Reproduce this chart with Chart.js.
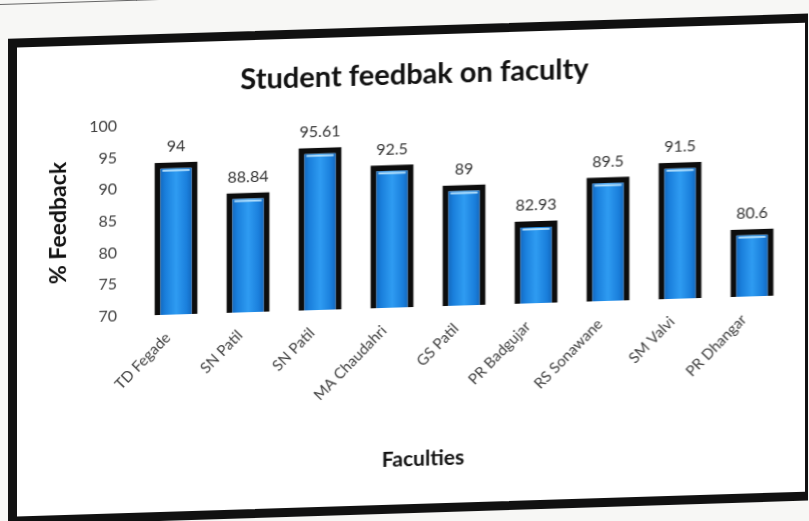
<!DOCTYPE html>
<html>
<head>
<meta charset="utf-8">
<script src="https://cdn.jsdelivr.net/npm/chart.js@4.4.1/dist/chart.umd.min.js"></script>
<style>
  html, body { margin: 0; padding: 0; background: #f7f7f5; overflow: hidden; }
  body { width: 809px; height: 521px; position: relative; }
  .sheet {
    position: absolute; left: 0; top: 0; width: 809px; height: 540px;
    transform-origin: 0 0;
    transform: skewY(-1.8deg);
  }
  .rule-h { position: absolute; left: 0; top: 4px; width: 809px; height: 1px; background: #666; }
  .rule-v { position: absolute; left: 136px; top: 0; width: 1px; height: 5px; background: #666; }
  .frame {
    position: absolute; left: 8px; top: 39px; width: 800px; height: 487px;
    box-sizing: border-box; background: #fff;
    border: 9px solid #111; border-right-width: 3px;
  }
  .box { position: absolute; left: 0; top: 0; width: 788px; height: 469px; }
</style>
</head>
<body>
<div class="sheet">
  <div class="rule-h"></div>
  <div class="rule-v"></div>
  <div class="frame">
    <div class="box"><canvas id="feedbackChart"></canvas></div>
  </div>
</div>
<script>
// data
var faculties = ['TD Fegade', 'SN Patil', 'SN Patil', 'MA Chaudahri', 'GS Patil',
                 'PR Badgujar', 'RS Sonawane', 'SM Valvi', 'PR Dhangar'];
var feedback  = [94, 88.84, 95.61, 92.5, 89, 82.93, 89.5, 91.5, 80.6];
var yMin = 70, yMax = 100, yStep = 5;
var xTitle = 'Faculties';

var FONT = 'Lato, "Open Sans", sans-serif';

// blue "cylinder" fill across each bar
function barFill(ctx) {
  var chart = ctx.chart;
  var el = chart.getDatasetMeta(0).data[ctx.dataIndex];
  if (!chart.chartArea || !el || !el.width) return '#1e88e5';
  var x0 = el.x - el.width / 2, x1 = el.x + el.width / 2;
  var g = chart.ctx.createLinearGradient(x0, 0, x1, 0);
  g.addColorStop(0,    '#0b4f9e');
  g.addColorStop(0.25, '#1a7fdc');
  g.addColorStop(0.5,  '#2f9cf2');
  g.addColorStop(0.75, '#1a7fdc');
  g.addColorStop(1,    '#0b4f9e');
  return g;
}

// values above bars, a small highlight at the top of the fill, x axis title
var valueLabels = {
  id: 'valueLabels',
  afterDatasetsDraw: function (chart) {
    var c = chart.ctx;
    var meta = chart.getDatasetMeta(0);
    c.save();
    meta.data.forEach(function (bar, i) {
      var bw = 6;
      c.fillStyle = 'rgba(200,235,255,0.85)';
      c.fillRect(bar.x - bar.width / 2 + bw + 2, bar.y + bw + 1, bar.width - 2 * bw - 4, 2);
      c.fillStyle = '#333';
      c.font = '16px ' + FONT;
      c.textAlign = 'center';
      c.textBaseline = 'bottom';
      c.fillText(String(feedback[i]), bar.x, bar.y - 8);
    });
    // axis title, centred under the whole figure like the original
    c.fillStyle = '#111';
    c.font = 'bold 21px ' + FONT;
    c.textAlign = 'center';
    c.textBaseline = 'middle';
    c.fillText(xTitle, chart.width / 2 + 12, chart.height - 45);
    c.restore();
  }
};

new Chart(document.getElementById('feedbackChart'), {
  type: 'bar',
  plugins: [valueLabels],
  data: {
    labels: faculties,
    datasets: [{
      label: '% Feedback',
      data: feedback,
      backgroundColor: barFill,
      borderColor: '#0d0d0d',
      borderWidth: 6,
      borderSkipped: false,
      barPercentage: 0.6,
      categoryPercentage: 1
    }]
  },
  options: {
    responsive: true,
    maintainAspectRatio: false,
    animation: false,
    layout: { padding: { left: 24, right: 17, top: 0, bottom: 0 } },
    plugins: {
      legend: { display: false },
      tooltip: { enabled: false },
      title: {
        display: true,
        text: 'Student feedbak on faculty',
        color: '#111',
        font: { family: FONT, size: 29, weight: 'bold' },
        padding: { top: 22, bottom: 25 }
      }
    },
    scales: {
      x: {
        grid: { display: false },
        border: { display: false },
        afterFit: function (s) { s.height = 197; },
        ticks: {
          color: '#404040',
          font: { family: FONT, size: 15 },
          minRotation: 45,
          maxRotation: 45,
          labelOffset: -8,
          padding: 6
        }
      },
      y: {
        min: yMin,
        max: yMax,
        grid: { display: false },
        border: { display: false },
        afterFit: function (s) { s.width = 99; },
        ticks: {
          stepSize: yStep,
          color: '#404040',
          font: { family: FONT, size: 16 },
          padding: 15
        },
        title: {
          display: true,
          text: '% Feedback',
          color: '#111',
          font: { family: FONT, size: 23, weight: 'bold' },
          padding: { top: 4, bottom: 0 }
        }
      }
    }
  }
});
</script>
</body>
</html>
